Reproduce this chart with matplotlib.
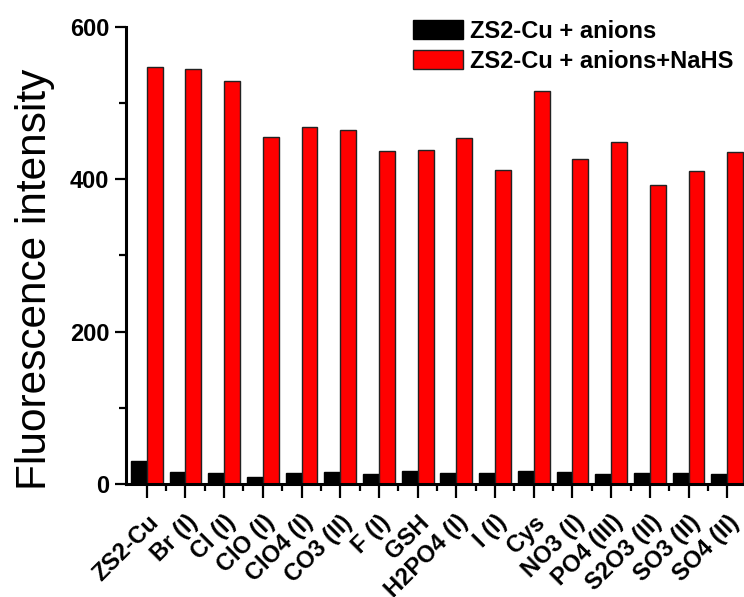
"""
Fluorescence of ZS2-Cu with different anions, before and after NaHS
"""
import matplotlib
matplotlib.use("Agg")
import matplotlib.pyplot as plt
from matplotlib.ticker import MultipleLocator, FixedLocator
import numpy as np

plt.rcParams['font.family'] = ['Liberation Sans', 'DejaVu Sans']

anions = ['ZS2-Cu', 'Br (I)', 'Cl (I)', 'ClO (I)', 'ClO4 (I)', 'CO3 (II)', 'F (I)',
          'GSH', 'H2PO4 (I)', 'I (I)', 'Cys', 'NO3 (I)', 'PO4 (III)', 'S2O3 (II)',
          'SO3 (II)', 'SO4 (II)']
# intensity without / with NaHS
no_nahs = [30, 16, 15, 9, 15, 16, 14, 18, 15, 15, 18, 16, 14, 15, 15, 14]
with_nahs = [547, 544, 529, 456, 468, 465, 437, 438, 454, 412, 516, 427, 449, 392, 411, 436]
yticks = [0, 200, 400, 600]

x = np.arange(len(anions))
w = 0.41

fig = plt.figure(figsize=(7.44, 5.97), dpi=100)
ax = fig.add_axes([126 / 744, 1 - 484.3 / 597, 622 / 744, 457.6 / 597])

ax.bar(x - w / 2, no_nahs, w, color='black', edgecolor='black', linewidth=1,
       label='ZS2-Cu + anions')
ax.bar(x + w / 2, with_nahs, w, color='#ff0000', edgecolor='#222222', linewidth=1,
       label='ZS2-Cu + anions+NaHS')

ax.set_xlim(-0.535, len(anions) - 1 + 0.535)
ax.set_ylim(0, 600)

for s in ['top', 'right']:
    ax.spines[s].set_visible(False)
for s in ['left', 'bottom']:
    ax.spines[s].set_linewidth(2.2)

ax.set_yticks(yticks)
ax.yaxis.set_minor_locator(MultipleLocator(100))
ax.set_xticks(x)
ax.xaxis.set_minor_locator(FixedLocator(x[:-1] + 0.5))
ax.tick_params(which='major', direction='out', length=8, width=1.6)
ax.tick_params(which='minor', direction='out', length=5, width=1.6)
ax.tick_params(axis='x', which='major', length=10)

ax.set_yticklabels([str(v) for v in yticks], fontsize=17, fontweight='bold')
ax.tick_params(axis='y', pad=4)
ax.set_xticklabels(anions, fontsize=17, fontweight='bold', rotation=45,
                   ha='right', rotation_mode='anchor')
ax.tick_params(axis='x', pad=9)

ax.set_ylabel('Fluorescence intensity', fontsize=30.5)
ax.yaxis.set_label_coords(-0.114, 0.449)

ax.legend(loc='upper left', bbox_to_anchor=(413 / 744, 1 - 20 / 597),
          bbox_transform=fig.transFigure, frameon=False,
          prop={'weight': 'bold', 'size': 17}, handlelength=2.1, handleheight=0.85,
          handletextpad=0.3, labelspacing=0.3, borderpad=0, borderaxespad=0)

fig.savefig('out.png', dpi=100)
